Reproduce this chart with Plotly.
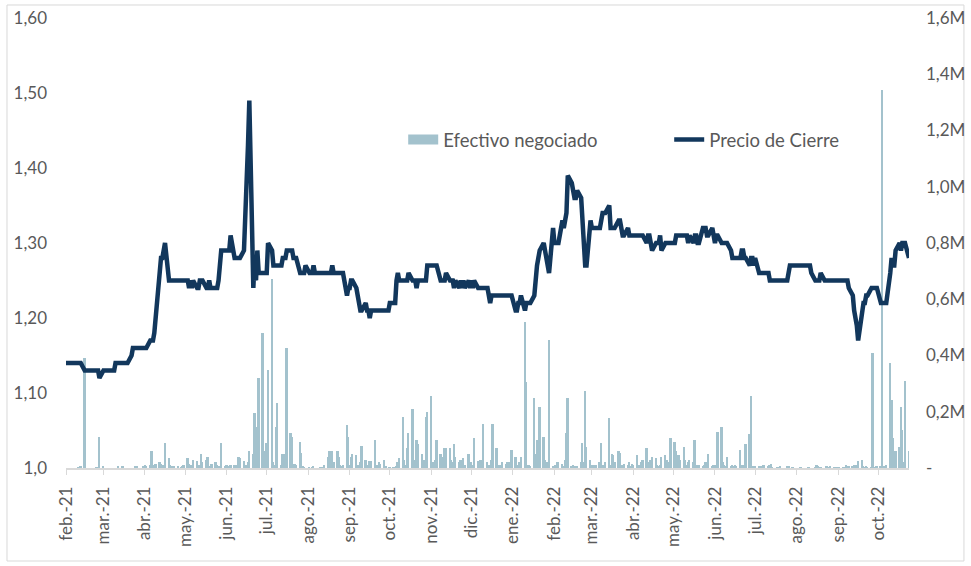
import pandas as pd
import plotly.graph_objects as go

# ---------------- data ----------------
months = ["2021-02", "2021-03", "2021-04", "2021-05", "2021-06", "2021-07", "2021-08",
          "2021-09", "2021-10", "2021-11", "2021-12", "2022-01", "2022-02", "2022-03",
          "2022-04", "2022-05", "2022-06", "2022-07", "2022-08", "2022-09", "2022-10"]

# Closing price, one value per business day of each month
price_2021_02 = [1.14, 1.14, 1.14, 1.14, 1.14, 1.14, 1.14, 1.14, 1.14, 1.14,
                 1.13, 1.13, 1.13, 1.13, 1.13, 1.13, 1.13, 1.13, 1.13, 1.12]
price_2021_03 = [1.13, 1.13, 1.13, 1.13, 1.13, 1.13, 1.13, 1.14, 1.14, 1.14,
                 1.14, 1.14, 1.14, 1.14, 1.14, 1.15, 1.16, 1.16, 1.16, 1.16,
                 1.16, 1.16, 1.16]
price_2021_04 = [1.16, 1.16, 1.17, 1.17, 1.17, 1.18, 1.20, 1.27, 1.28, 1.28,
                 1.29, 1.30, 1.25, 1.25, 1.25, 1.25, 1.25, 1.25, 1.25, 1.25,
                 1.25, 1.25]
price_2021_05 = [1.25, 1.24, 1.25, 1.24, 1.25, 1.24, 1.24, 1.25, 1.25, 1.25,
                 1.24, 1.24, 1.25, 1.24, 1.24, 1.24, 1.24, 1.25, 1.27, 1.29,
                 1.29]
price_2021_06 = [1.29, 1.29, 1.29, 1.31, 1.28, 1.28, 1.28, 1.28, 1.28, 1.29,
                 1.33, 1.37, 1.43, 1.49, 1.24, 1.28, 1.25, 1.29, 1.26, 1.26,
                 1.26, 1.26]
price_2021_07 = [1.26, 1.30, 1.29, 1.27, 1.27, 1.27, 1.27, 1.27, 1.28, 1.28,
                 1.28, 1.29, 1.29, 1.29, 1.28, 1.28, 1.28, 1.26, 1.26, 1.26,
                 1.26, 1.27]
price_2021_08 = [1.26, 1.26, 1.26, 1.27, 1.26, 1.26, 1.26, 1.26, 1.26, 1.26,
                 1.26, 1.26, 1.26, 1.27, 1.26, 1.26, 1.26, 1.26, 1.26, 1.26,
                 1.23, 1.24]
price_2021_09 = [1.24, 1.25, 1.25, 1.24, 1.23, 1.22, 1.21, 1.21, 1.22, 1.21,
                 1.21, 1.20, 1.21, 1.21, 1.21, 1.21, 1.21, 1.21, 1.21, 1.21,
                 1.21, 1.21]
price_2021_10 = [1.22, 1.22, 1.22, 1.25, 1.26, 1.25, 1.25, 1.25, 1.25, 1.25,
                 1.26, 1.25, 1.25, 1.25, 1.24, 1.25, 1.25, 1.25, 1.25, 1.25,
                 1.27]
price_2021_11 = [1.27, 1.27, 1.27, 1.27, 1.27, 1.25, 1.25, 1.25, 1.25, 1.26,
                 1.25, 1.25, 1.25, 1.24, 1.25, 1.24, 1.25, 1.24, 1.25, 1.24,
                 1.25, 1.24]
price_2021_12 = [1.25, 1.24, 1.25, 1.24, 1.24, 1.24, 1.24, 1.24, 1.24, 1.23,
                 1.22, 1.23, 1.23, 1.23, 1.23, 1.23, 1.23, 1.23, 1.23, 1.23,
                 1.23, 1.23, 1.23]
price_2022_01 = [1.21, 1.21, 1.22, 1.22, 1.23, 1.21, 1.22, 1.22, 1.22, 1.22,
                 1.23, 1.26, 1.27, 1.28, 1.29, 1.30, 1.29, 1.28, 1.27, 1.26,
                 1.32]
price_2022_02 = [1.30, 1.30, 1.30, 1.30, 1.33, 1.32, 1.33, 1.34, 1.39, 1.38,
                 1.37, 1.36, 1.36, 1.37, 1.36, 1.32, 1.29, 1.27, 1.27, 1.33]
price_2022_03 = [1.32, 1.32, 1.32, 1.32, 1.32, 1.33, 1.34, 1.34, 1.34, 1.35,
                 1.32, 1.32, 1.32, 1.32, 1.33, 1.33, 1.32, 1.31, 1.31, 1.32,
                 1.31, 1.31, 1.31]
price_2022_04 = [1.31, 1.31, 1.31, 1.31, 1.31, 1.31, 1.30, 1.31, 1.31, 1.30,
                 1.29, 1.30, 1.30, 1.30, 1.31, 1.29, 1.30, 1.30, 1.30, 1.30,
                 1.30]
price_2022_05 = [1.30, 1.31, 1.31, 1.31, 1.31, 1.31, 1.31, 1.31, 1.30, 1.31,
                 1.30, 1.31, 1.31, 1.30, 1.30, 1.32, 1.32, 1.32, 1.31, 1.31,
                 1.32, 1.31]
price_2022_06 = [1.30, 1.31, 1.31, 1.30, 1.30, 1.30, 1.30, 1.30, 1.29, 1.28,
                 1.28, 1.28, 1.28, 1.28, 1.29, 1.29, 1.28, 1.28, 1.27, 1.28,
                 1.28, 1.27]
price_2022_07 = [1.28, 1.26, 1.26, 1.26, 1.26, 1.26, 1.26, 1.25, 1.25, 1.25,
                 1.25, 1.25, 1.25, 1.25, 1.25, 1.25, 1.25, 1.26, 1.27, 1.27,
                 1.27]
price_2022_08 = [1.27, 1.27, 1.27, 1.27, 1.27, 1.27, 1.27, 1.27, 1.27, 1.26,
                 1.25, 1.25, 1.25, 1.25, 1.26, 1.25, 1.25, 1.25, 1.25, 1.25,
                 1.25, 1.25, 1.25]
price_2022_09 = [1.25, 1.25, 1.25, 1.25, 1.25, 1.25, 1.24, 1.23, 1.21, 1.20,
                 1.19, 1.17, 1.21, 1.22, 1.22, 1.23, 1.23, 1.24, 1.24, 1.24,
                 1.24, 1.24]
price_2022_10 = [1.22, 1.22, 1.22, 1.22, 1.22, 1.26, 1.28, 1.27, 1.27, 1.29,
                 1.30, 1.29, 1.30, 1.30, 1.30, 1.28]

# Traded amount (millions), one value per business day of each month
vol_2021_02 = [0, 0, 0, 0, 0, 0, 0, 0.003, 0, 0.005,
               0.39, 0, 0, 0, 0, 0, 0, 0.002, 0, 0.11]
vol_2021_03 = [0.005, 0, 0, 0, 0, 0, 0, 0, 0, 0.006,
               0.004, 0.005, 0, 0, 0, 0, 0, 0, 0.004, 0.005,
               0, 0, 0.006]
vol_2021_04 = [0.01, 0.008, 0.01, 0.06, 0.005, 0.01, 0.015, 0.02, 0.015, 0.005,
               0.01, 0.088, 0.035, 0.01, 0.005, 0.003, 0.008, 0.005, 0, 0.003,
               0.005, 0.01]
vol_2021_05 = [0.037, 0.015, 0.01, 0.012, 0.03, 0.025, 0.01, 0.012, 0.05, 0.02,
               0.03, 0.04, 0.005, 0.003, 0.015, 0.02, 0.01, 0.005, 0.008, 0.088,
               0.005]
vol_2021_06 = [0.01, 0.008, 0.005, 0.012, 0.01, 0.005, 0.01, 0.04, 0.035, 0.025,
               0.005, 0.01, 0.02, 0.06, 0.05, 0.197, 0.05, 0.146, 0.321, 0.479,
               0.06, 0.03]
vol_2021_07 = [0.088, 0.348, 0.672, 0.02, 0.01, 0.147, 0.232, 0.01, 0.05, 0.02,
               0.05, 0.428, 0.125, 0.11, 0.01, 0.015, 0.01, 0.094, 0.055, 0.005,
               0.003, 0]
vol_2021_08 = [0.003, 0, 0.002, 0.004, 0, 0, 0.002, 0, 0.003, 0.01,
               0.04, 0.06, 0.01, 0.06, 0.02, 0.06, 0.04, 0.01, 0.005, 0.01,
               0.153, 0.11]
vol_2021_09 = [0.01, 0.04, 0.05, 0.045, 0.01, 0.005, 0.02, 0.08, 0.03, 0.005,
               0.01, 0.025, 0.025, 0.1, 0.005, 0.01, 0.02, 0.015, 0.03, 0.005,
               0, 0]
vol_2021_10 = [0.002, 0.003, 0.002, 0.004, 0.02, 0.035, 0.182, 0.03, 0.01, 0.07,
               0.123, 0.209, 0.03, 0.02, 0.1, 0.085, 0.05, 0.02, 0.03, 0.182,
               0.2]
vol_2021_11 = [0.256, 0.02, 0.01, 0.03, 0.1, 0.05, 0.04, 0.02, 0.07, 0.07,
               0.07, 0.03, 0.02, 0.085, 0.04, 0.02, 0.03, 0.015, 0.035, 0.01,
               0.05, 0.02]
vol_2021_12 = [0.02, 0.01, 0.105, 0.025, 0.01, 0.03, 0.02, 0.156, 0.02, 0.01,
               0.005, 0.03, 0.158, 0.07, 0.01, 0.005, 0.01, 0.02, 0.015, 0.02,
               0.01, 0.02, 0.064]
vol_2022_01 = [0.04, 0.01, 0.005, 0.02, 0.04, 0.52, 0.307, 0.01, 0.01, 0.005,
               0.25, 0.05, 0.1, 0.03, 0.216, 0.11, 0.03, 0.01, 0.02, 0.455,
               0.005]
vol_2022_02 = [0.005, 0.01, 0.02, 0.02, 0.015, 0.005, 0.03, 0.123, 0.248, 0.005,
               0.01, 0.005, 0.005, 0.005, 0.02, 0.09, 0.02, 0.274, 0.076, 0.03]
vol_2022_03 = [0.01, 0.005, 0.01, 0.01, 0.02, 0.09, 0.01, 0.005, 0.02, 0.177,
               0.01, 0.05, 0.045, 0.02, 0.06, 0.055, 0.01, 0.01, 0.015, 0.01,
               0.02, 0.005, 0.015]
vol_2022_04 = [0.01, 0.045, 0.01, 0.005, 0.02, 0.03, 0.07, 0.02, 0.01, 0.03,
               0.04, 0.035, 0.01, 0.005, 0.01, 0.04, 0.045, 0.03, 0.01, 0.02,
               0.105]
vol_2022_05 = [0.094, 0.06, 0.04, 0.045, 0.03, 0.075, 0.03, 0.01, 0.02, 0.03,
               0.02, 0.1, 0.01, 0.005, 0.01, 0.005, 0.01, 0.02, 0.01, 0.05,
               0.005, 0.01]
vol_2022_06 = [0.01, 0.005, 0.129, 0.147, 0.02, 0.01, 0.005, 0.04, 0.005, 0.01,
               0.005, 0.01, 0.005, 0.065, 0.01, 0.005, 0.01, 0.085, 0.12, 0.257,
               0.005, 0.005]
vol_2022_07 = [0.005, 0.005, 0.003, 0.008, 0.01, 0.012, 0.005, 0.01, 0.015, 0.003,
               0, 0.002, 0, 0.004, 0, 0, 0.005, 0.004, 0, 0,
               0.003]
vol_2022_08 = [0, 0, 0, 0.002, 0, 0, 0, 0.002, 0, 0,
               0.003, 0.01, 0.005, 0, 0.003, 0, 0.006, 0.004, 0.003, 0.008,
               0.002, 0, 0.003]
vol_2022_09 = [0, 0.002, 0.003, 0.002, 0.01, 0.004, 0.008, 0.005, 0.012, 0.008,
               0.01, 0.025, 0.03, 0.004, 0.002, 0.005, 0.003, 0.002, 0.41, 0.003,
               0.002, 0.005]
vol_2022_10 = [0.005, 1.345, 0.003, 0.005, 0.01, 0.374, 0.242, 0.105, 0.03, 0.06,
               0.075, 0.218, 0.135, 0.02, 0.31, 0.06]

price_by_month = [price_2021_02, price_2021_03, price_2021_04, price_2021_05, price_2021_06,
                  price_2021_07, price_2021_08, price_2021_09, price_2021_10, price_2021_11,
                  price_2021_12, price_2022_01, price_2022_02, price_2022_03, price_2022_04,
                  price_2022_05, price_2022_06, price_2022_07, price_2022_08, price_2022_09,
                  price_2022_10]
vol_by_month = [vol_2021_02, vol_2021_03, vol_2021_04, vol_2021_05, vol_2021_06,
                vol_2021_07, vol_2021_08, vol_2021_09, vol_2021_10, vol_2021_11,
                vol_2021_12, vol_2022_01, vol_2022_02, vol_2022_03, vol_2022_04,
                vol_2022_05, vol_2022_06, vol_2022_07, vol_2022_08, vol_2022_09,
                vol_2022_10]

x_tick_dates = ["2021-02-01", "2021-03-01", "2021-04-01", "2021-05-01", "2021-06-01",
                "2021-07-01", "2021-08-01", "2021-09-01", "2021-10-01", "2021-11-01",
                "2021-12-01", "2022-01-01", "2022-02-01", "2022-03-01", "2022-04-01",
                "2022-05-01", "2022-06-01", "2022-07-01", "2022-08-01", "2022-09-01",
                "2022-10-01"]
x_tick_labels = ["feb.-21", "mar.-21", "abr.-21", "may.-21", "jun.-21", "jul.-21",
                 "ago.-21", "sep.-21", "oct.-21", "nov.-21", "dic.-21", "ene.-22",
                 "feb.-22", "mar.-22", "abr.-22", "may.-22", "jun.-22", "jul.-22",
                 "ago.-22", "sep.-22", "oct.-22"]
price_ticks = [1.0, 1.1, 1.2, 1.3, 1.4, 1.5, 1.6]
price_tick_labels = ["1,0", "1,10", "1,20", "1,30", "1,40", "1,50", "1,60"]
vol_ticks = [0, 0.2, 0.4, 0.6, 0.8, 1.0, 1.2, 1.4, 1.6]
vol_tick_labels = ["-", "0,2M", "0,4M", "0,6M", "0,8M", "1,0M", "1,2M", "1,4M", "1,6M"]

# ---------------- assemble daily series ----------------
dates, price, volume = [], [], []
for m, p, v in zip(months, price_by_month, vol_by_month):
    start = pd.Timestamp(m + "-01")
    days = pd.bdate_range(start, start + pd.offsets.MonthEnd(0))
    n = min(len(p), len(v), len(days))
    dates += list(days[:n])
    price += p[:n]
    volume += v[:n]

BAR = "#A3C2CD"
LINE = "#12375C"
TXT = "#595959"
FONT = "Lato, 'Open Sans', sans-serif"
DAY_MS = 86400000

fig = go.Figure()
fig.add_trace(go.Bar(x=dates, y=volume, name="Efectivo negociado",
                     width=[1.4 * DAY_MS] * len(dates),
                     marker=dict(color=BAR, line=dict(width=0)), yaxis="y",
                     showlegend=False, legendgroup="vol"))
# legend-only swatch for the bars (wide flat patch like the original)
fig.add_trace(go.Scatter(x=[None], y=[None], name="Efectivo negociado", mode="lines",
                         line=dict(color=BAR, width=10), yaxis="y",
                         legendgroup="vol", hoverinfo="skip"))
fig.add_trace(go.Scatter(x=dates, y=price, name="Precio de Cierre", mode="lines",
                         line=dict(color=LINE, width=4.5), yaxis="y2"))

fig.update_layout(
    width=971, height=566,
    margin=dict(l=66, r=62, t=18, b=98, autoexpand=False),
    paper_bgcolor="white", plot_bgcolor="white",
    font=dict(family=FONT, size=17, color=TXT),
    bargap=0,
    showlegend=True,
    legend=dict(orientation="h", x=0.400, y=0.729, xanchor="left", yanchor="middle",
                font=dict(size=18.5, color=TXT), entrywidth=221, entrywidthmode="pixels",
                bgcolor="rgba(0,0,0,0)", traceorder="normal"),
    xaxis=dict(type="date", range=["2021-02-01", "2022-10-24"],
               tickmode="array", tickvals=x_tick_dates, ticktext=x_tick_labels,
               tickangle=-90, ticks="outside", ticklen=5, tickcolor="#D9D9D9",
               showline=True, linecolor="#D9D9D9", linewidth=1.5,
               showgrid=False, zeroline=False, ticklabelstandoff=5,
               tickfont=dict(size=17, color=TXT)),
    yaxis=dict(side="right", range=[0, 1.6], tickmode="array",
               tickvals=vol_ticks, ticktext=vol_tick_labels,
               showgrid=False, zeroline=False, showline=False,
               ticklabelstandoff=16, tickfont=dict(size=17, color=TXT)),
    yaxis2=dict(overlaying="y", side="left", range=[1.0, 1.6], tickmode="array",
                tickvals=price_ticks, ticktext=price_tick_labels,
                showgrid=False, zeroline=False, showline=False,
                ticklabelstandoff=18, tickfont=dict(size=17, color=TXT)),
    shapes=[dict(type="rect", xref="paper", yref="paper",
                 x0=-0.070, x1=1.0652, y0=-0.2067, y1=1.0289,
                 line=dict(color="#D9D9D9", width=1), layer="below")],
)

fig.write_html("out.html", config={"displayModeBar": False},
               post_script="document.body.style.margin='0';document.body.style.padding='0';")
